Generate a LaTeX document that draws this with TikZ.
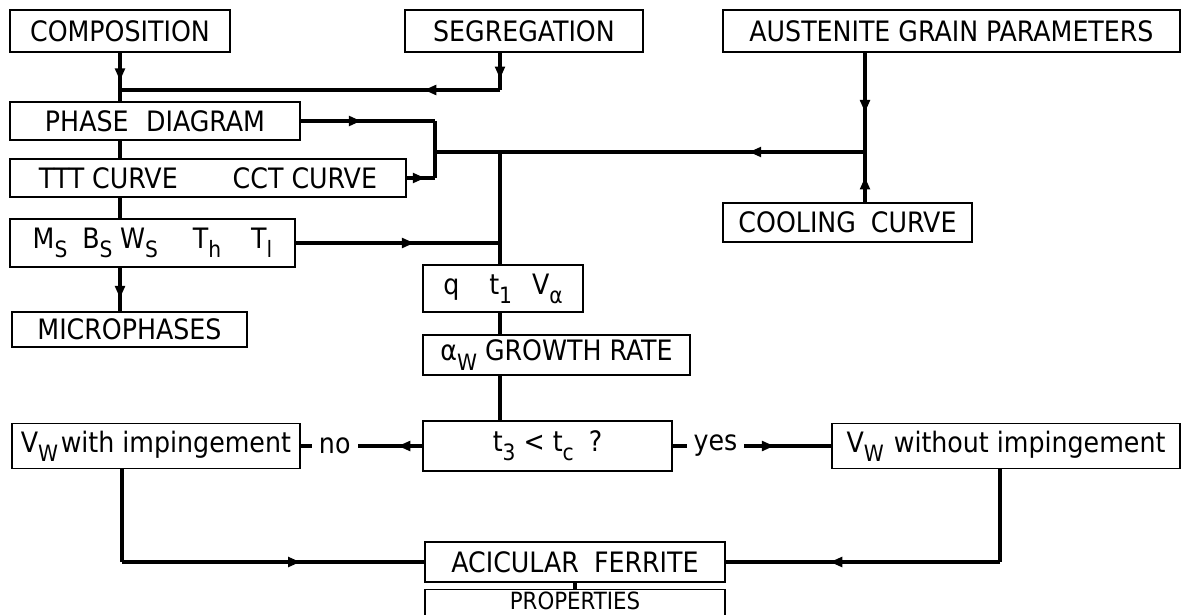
\documentclass[tikz,border=0pt]{standalone}
\usepackage{fontspec}
\setmainfont{DejaVu Sans Condensed}
\usepackage{tikz}
\usetikzlibrary{positioning,arrows.meta,decorations.markings}

\newcommand{\subidx}[1]{\raisebox{-0.6ex}{\scalebox{0.8}{#1}}}

\begin{document}
\begin{tikzpicture}[
    font=\fontsize{16}{19}\selectfont,
    box/.style 2 args={draw, rectangle, line width=0.8pt, inner sep=0pt, minimum width=#1cm, minimum height=#2cm},
    flow/.style={line width=2pt},
    tip/.style={postaction={decorate}, decoration={markings, mark=at position #1 with {\arrow{Triangle[length=7pt,width=5.5pt]}}}},
    lbl/.style={fill=white, inner xsep=4pt, inner ysep=1pt}
]
    \useasboundingbox (0,0) rectangle (23.70,-12.30);

    % inputs
    \node[box={4.4}{0.84}] (comp) at (2.40,-0.62) {COMPOSITION};
    \node[box={4.76}{0.84}] (seg) at (10.48,-0.62) {SEGREGATION};
    \node[box={9.14}{0.84}] (aus) at (19.03,-0.62) {AUSTENITE GRAIN PARAMETERS};

    % left column
    \node[box={5.8}{0.76}] (phase) at (3.10,-2.42) {PHASE\hspace{0.35cm}DIAGRAM};
    \node[box={7.92}{0.76}] (ttt) at (4.16,-3.56) {TTT CURVE\hspace{1.1cm}CCT CURVE};
    \node[box={5.7}{0.96}] (ms) at (3.05,-4.86)
        {M\subidx{S}\hspace{0.3cm}B\subidx{S}\hspace{0.15cm}W\subidx{S}\hspace{0.7cm}T\subidx{h}\hspace{0.6cm}T\subidx{l}};
    \node[box={4.7}{0.70}] (micro) at (2.59,-6.59) {MICROPHASES};
    \node[box={4.98}{0.78}] (cool) at (16.95,-4.45) {COOLING\hspace{0.3cm}CURVE};

    % middle column
    \node[box={3.2}{0.94}] (q) at (10.06,-5.77) {q\hspace{0.6cm}t\subidx{1}\hspace{0.4cm}V\subidx{α}};
    \node[box={5.34}{0.80}] (grow) at (11.13,-7.10) {α\subidx{W} GROWTH RATE};
    \node[box={4.98}{1.0}] (t3) at (10.95,-8.92) {t\subidx{3} < t\subidx{c}\hspace{0.3cm}?};
    \node[box={5.76}{0.90}] (vwi) at (3.12,-8.92) {V\subidx{W}\hspace{0.05cm}with impingement};
    \node[box={6.96}{0.90}] (vwo) at (20.12,-8.92) {V\subidx{W}\hspace{0.2cm}without impingement};
    \node[box={6.0}{0.80}] (acic) at (11.50,-11.24) {ACICULAR\hspace{0.3cm}FERRITE};
    \node[box={6.0}{0.50}, anchor=north, text height=0.40cm, text depth=0.3cm,
        font=\fontsize{13.5}{16}\selectfont] (prop) at (11.50,-11.78) {PROPERTIES};

    % junctions
    \coordinate (j1) at (2.40,-1.80);
    \coordinate (j2) at (10.0,-1.80);
    \coordinate (m1) at (8.70,-2.42);
    \coordinate (m2) at (8.70,-3.56);
    \coordinate (m3) at (8.70,-3.04);
    \coordinate (j3) at (10.0,-3.04);
    \coordinate (j4) at (17.30,-3.04);
    \coordinate (j5) at (10.0,-4.86);
    \coordinate (k1) at (2.44,-11.24);
    \coordinate (k2) at (20.0,-11.24);

    \draw[flow, tip=0.75] (comp.south) -- (j1);
    \draw[flow, tip=0.7] (seg.south -| j2) -- (j2);
    \draw[flow, tip=0.2] (j2) -- (j1);
    \draw[flow] (j1) -- (phase.north -| j1);
    \draw[flow] (phase.south -| j1) -- (ttt.north -| j1);
    \draw[flow] (ttt.south -| j1) -- (ms.north -| j1);
    \draw[flow, tip=0.7] (ms.south -| j1) -- (micro.north -| j1);

    \draw[flow, tip=0.45] (phase.east) -- (m1);
    \draw[flow] (m1) -- (m2);
    \draw[flow, tip=0.65] (ttt.east) -- (m2);
    \draw[flow, tip=0.6] (aus.south -| j4) -- (j4);
    \draw[flow, tip=0.5] (cool.north -| j4) -- (j4);
    \draw[flow, tip=0.27] (j4) -- (m3);
    \draw[flow] (j3) -- (q.north -| j3);
    \draw[flow, tip=0.58] (ms.east) -- (j5);
    \draw[flow] (q.south -| j3) -- (grow.north -| j3);
    \draw[flow] (grow.south -| j3) -- (t3.north -| j3);

    \draw[flow, tip=0.2] (t3.west) -- node[pos=0.72, lbl] {no} (vwi.east);
    \draw[flow, tip=0.64] (t3.east) -- node[pos=0.27, lbl] {yes} (vwo.west);

    \draw[flow] (vwi.south -| k1) -- (k1);
    \draw[flow, tip=0.59] (k1) -- (acic.west);
    \draw[flow] (vwo.south -| k2) -- (k2);
    \draw[flow, tip=0.62] (k2) -- (acic.east);
    \draw[flow] (acic.south) -- (prop.north);
\end{tikzpicture}
\end{document}
